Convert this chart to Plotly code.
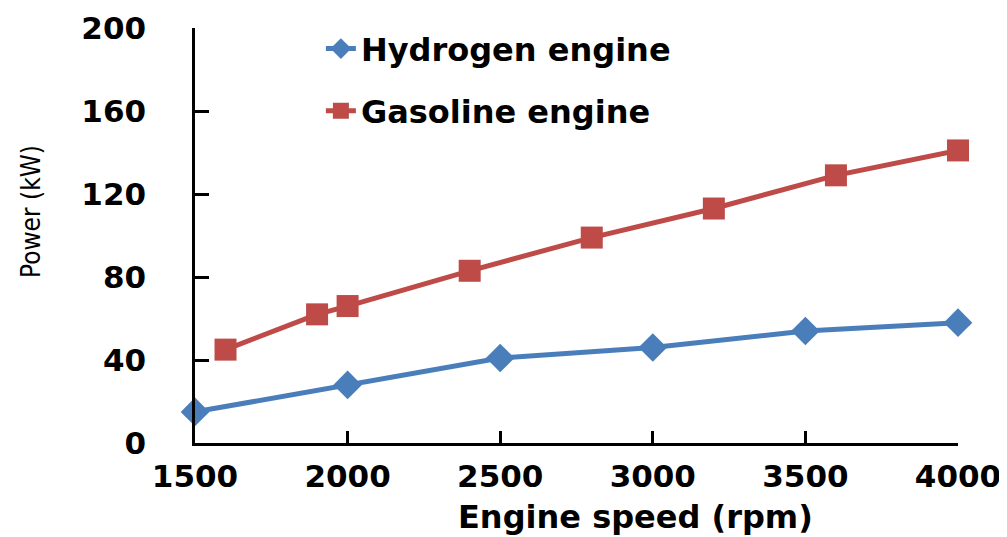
import plotly.graph_objects as go

# Data
h_speed = [1500, 2000, 2500, 3000, 3500, 4000]
h_power = [15, 28, 41, 46, 54, 58]
g_speed = [1600, 1900, 2000, 2400, 2800, 3200, 3600, 4000]
g_power = [45, 62, 66, 83, 99, 113, 129, 141]
x_ticks = [1500, 2000, 2500, 3000, 3500, 4000]
y_ticks = [0, 40, 80, 120, 160, 200]

BLUE = "#4A7EBB"
RED = "#BE4B48"
BOLD = "DejaVu Sans"

fig = go.Figure()
fig.add_trace(go.Scatter(
    x=h_speed, y=h_power, mode="lines+markers", name="Hydrogen engine",
    line=dict(color=BLUE, width=5), marker=dict(symbol="diamond", size=22, color=BLUE),
    cliponaxis=False, legend="legend"))
fig.add_trace(go.Scatter(
    x=g_speed, y=g_power, mode="lines+markers", name="Gasoline engine",
    line=dict(color=RED, width=5), marker=dict(symbol="square", size=22, color=RED),
    cliponaxis=False, legend="legend2"))

legend_common = dict(font=dict(family=BOLD, size=32, color="black", weight="bold"),
                     bgcolor="rgba(0,0,0,0)", xanchor="left", yanchor="middle",
                     itemwidth=30)
tickfont = dict(family=BOLD, size=31, color="black", weight="bold")
fig.update_layout(
    width=1007, height=537,
    margin=dict(l=187, r=57, t=20, b=102, autoexpand=False),
    paper_bgcolor="white", plot_bgcolor="white",
    showlegend=True,
    legend=dict(x=0.165, y=0.95, **legend_common),
    legend2=dict(x=0.165, y=0.80, **legend_common),
    xaxis=dict(range=[1500, 4000], tickvals=x_ticks, ticks="inside", ticklen=12,
               tickwidth=2.5, tickcolor="black", showline=True, linecolor="black",
               linewidth=2.5, showgrid=False, zeroline=False, automargin=False,
               tickfont=tickfont, ticklabelstandoff=4),
    yaxis=dict(range=[0, 200], tickvals=y_ticks, ticks="inside", ticklen=14,
               tickwidth=2.5, tickcolor="black", showline=True, linecolor="black",
               linewidth=2.5, showgrid=False, zeroline=False, automargin=False,
               tickfont=tickfont, ticklabelstandoff=40),
    annotations=[
        dict(text="Engine speed (rpm)", xref="paper", yref="paper",
             x=(634 - 194) / (957 - 194), y=-(517 - 443) / (443 - 28),
             xanchor="center", yanchor="middle", showarrow=False,
             font=dict(family=BOLD, size=32, color="black", weight="bold")),
        dict(text="Power (kW)", xref="paper", yref="paper",
             x=-(194 - 30) / (957 - 194), y=(443 - 212) / (443 - 28),
             xanchor="center", yanchor="middle", showarrow=False, textangle=-90,
             font=dict(family="Liberation Sans Narrow, DejaVu Sans Condensed, Arial Narrow",
                       size=26, color="black")),
    ],
)

fig.write_html("out.html")
